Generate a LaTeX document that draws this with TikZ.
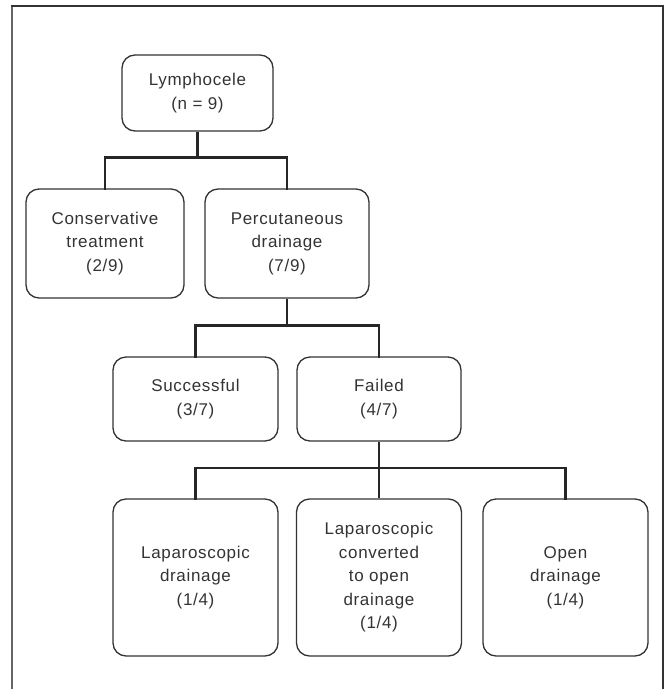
\documentclass[tikz,border=0pt]{standalone}
\usepackage{fontspec}
\setmainfont[LetterSpace=4]{Liberation Sans}
\usepackage{xcolor}
\usepackage{tikz}
\usetikzlibrary{arrows}
\definecolor{boxgray}{HTML}{333333}
\definecolor{framegray}{HTML}{666666}
\tikzset{
	main node/.style={draw=boxgray,line width=1.3pt,rounded corners=13pt,align=center,
		text=boxgray,font=\fontsize{17}{23.5}\selectfont,inner sep=2pt},
	link/.style={line width=2.8pt,draw=black!85,line cap=rect}
}

\begin{document}
\begin{tikzpicture}[x=1pt,y=-1pt]
	    \useasboundingbox (0,0) rectangle (665,689);
	    \draw[framegray,line width=1.6pt] (12,689) -- (12,6);
	    \draw[boxgray,line width=1.6pt] (11.2,6) -- (663,6) -- (663,689);
	    % first level
	    \node [main node,minimum width=151pt,minimum height=76pt] (1) at (197.5,93) {Lymphocele\\(n = 9)};
	    \node [main node,minimum width=158pt,minimum height=109pt] (2) at (105,243.5) {Conservative\\treatment\\(2/9)};
	    \node [main node,minimum width=164pt,minimum height=109pt] (3) at (287,243.5) {Percutaneous\\drainage\\(7/9)};
	    % second level
	    \node [main node,minimum width=165pt,minimum height=84pt] (4) at (195.5,399) {Successful\\(3/7)};
	    \node [main node,minimum width=164pt,minimum height=84pt] (5) at (379,399) {Failed\\(4/7)};
	    % third level
	    \node [main node,minimum width=165pt,minimum height=157pt] (6) at (195.5,577.5) {Laparoscopic\\drainage\\(1/4)};
	    \node [main node,minimum width=165pt,minimum height=157pt] (7) at (379,577.5) {Laparoscopic\\converted\\to open\\drainage\\(1/4)};
	    \node [main node,minimum width=165pt,minimum height=157pt] (8) at (565.5,577.5) {Open\\drainage\\(1/4)};
	    \coordinate (j1) at (197.5,157.5);
	    \coordinate (j2) at (287,325.5);
	    \coordinate (j3) at (379,468);
	    \draw[link,line cap=butt] (1.south) -- (j1);
	    \draw[link] (2.north) |- (j1) -| (3.north);
	    \draw[link,line cap=butt] (3.south) -- (j2);
	    \draw[link] (4.north) |- (j2) -| (5.north);
	    \draw[link,line cap=butt] (5.south) -- (7.north);
	    \draw[link] (6.north) |- (j3) -| (8.north);
	  \end{tikzpicture}
\end{document}
